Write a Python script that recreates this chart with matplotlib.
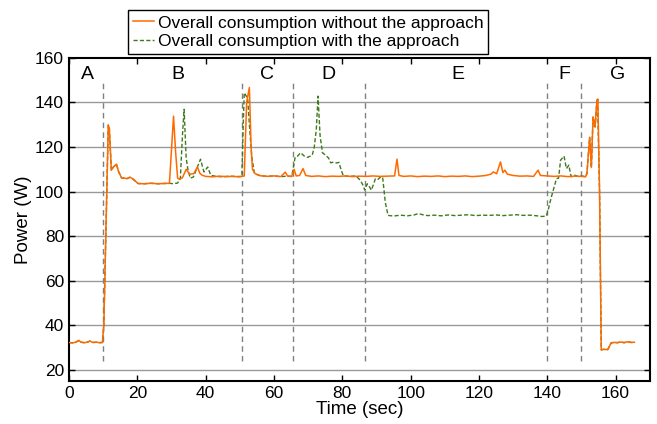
import numpy as np
import matplotlib
matplotlib.use("Agg")
import matplotlib.pyplot as plt

plt.rcParams['font.family'] = ['Liberation Sans', 'DejaVu Sans']

# power trace without the approach (time in sec, power in W)
t_without = [0, 1, 2, 2.9, 3.5, 4.5, 5.5, 6.1, 7, 8, 9, 9.8,
             10.2, 11.5, 11.8, 12.4, 13.0, 13.9, 14.5, 15.4, 16.2, 17.0, 17.8, 18.5, 19.2, 20.2,
             22, 24, 26, 28, 29.4, 30.6, 31.2, 31.8, 32.4, 33.2, 34.3, 35.3, 36.5, 37.6, 38.3, 39.0,
             40, 42, 44, 46, 48, 50, 51.3, 52.0, 52.8, 53.3, 53.7, 54.5, 56, 58, 60, 62, 63.3, 64,
             65.2, 65.9, 66.5, 67.5, 68.5, 69.3, 71, 73, 75, 77, 79, 81, 83, 85, 87, 89, 91, 93,
             95.3, 96, 96.6, 98, 100, 102, 104, 106, 108, 110, 112, 114, 116, 118, 120, 122, 123.5,
             124.2, 125.2, 126.3, 127, 127.6, 128.3, 130, 132, 134, 136, 137.3, 138, 140, 142, 144,
             146, 148, 150, 151.2, 151.6, 152.4, 152.9, 153.4, 154.0, 154.5, 154.8, 155.3, 155.8,
             156.5, 157.7, 158.7, 159.5, 160.5, 161.5, 162.5, 163.5, 164.5, 165.5]
p_without = [32.3, 32.1, 32.4, 33.2, 32.4, 32.2, 32.5, 32.9, 32.3, 32.4, 32.2, 32.3,
             40, 129.8, 128.5, 109.6, 111, 112.3, 109, 106.1, 106.0, 105.8, 106.4, 105.9, 105.0, 103.6,
             103.5, 103.7, 103.5, 103.6, 103.7, 133.8, 118, 106, 105.5, 106.2, 110, 107.8, 108, 111, 108.2, 107.3,
             106.8, 106.6, 106.9, 106.7, 106.8, 106.6, 107, 140, 146.7, 120, 110, 108, 107.1, 106.8, 107, 106.7, 108.7, 106.9,
             106.8, 110, 107, 107.2, 110.3, 107.2, 106.8, 107, 106.7, 106.9, 106.8, 107, 106.7, 106.9, 106.8, 107, 106.8, 106.9,
             107, 114.5, 107.2, 106.8, 107, 106.7, 106.9, 106.8, 107, 106.7, 106.9, 106.8, 107, 106.7, 106.9, 107.2, 107.8,
             108.8, 108, 113.3, 108.5, 109.6, 107.8, 107.2, 106.9, 107, 106.8, 109.6, 107.2, 107, 106.8, 107,
             106.7, 106.9, 106.8, 106.6, 108, 124.3, 110.8, 133.5, 129, 140.3, 141.5, 100, 29,
             29.2, 29.1, 32.1, 32.3, 32.2, 32.5, 32.2, 32.6, 32.3, 32.4]

# power trace with the approach
t_with = [0, 1, 2, 2.9, 3.5, 4.5, 5.5, 6.1, 7, 8, 9, 9.8,
          10.2, 11.5, 11.8, 12.4, 13.0, 13.9, 14.5, 15.4, 16.2, 17.0, 17.8, 18.5, 19.2, 20.2,
          22, 24, 26, 28, 29.4, 30.5, 31.8, 32.6, 33.2, 33.7, 34.3, 34.8, 35.5, 36.4, 37.2, 38.5, 39.5,
          40.6, 41.5, 43, 45, 47, 49, 50.6, 51.0, 51.3, 52.3, 52.8, 53.5, 54.3, 56, 58, 60, 62, 64,
          65.2, 65.6, 66.2, 66.9, 67.8, 68.8, 69.8, 71.2, 71.8, 72.4, 72.9, 73.5, 74.2, 75.1, 76.0,
          76.6, 77.5, 78.4, 79.0, 79.6, 80.3, 82, 84, 85.3, 86.0, 86.6, 87.3, 88.0, 88.5, 89.2, 89.7,
          90.5, 91.1, 91.8, 92.6, 93.4, 95, 97, 99, 101, 102.3, 103.5, 105, 107, 109, 111, 113, 115,
          117, 119, 121, 123, 125, 127, 129, 131, 133, 135, 137, 138.5, 139.7, 140.3, 141.2, 142.7,
          143.3, 143.9, 144.9, 145.6, 146.3, 147, 148, 149, 150, 151.2, 151.6, 152.4, 152.9, 153.4,
          154.0, 154.5, 154.7, 155.3, 155.8, 156.5, 157.7, 158.7, 159.5, 160.5, 161.5, 162.5, 163.5,
          164.5, 165.5]
p_with = [32.3, 32.1, 32.4, 33.2, 32.4, 32.2, 32.5, 32.9, 32.3, 32.4, 32.2, 32.3,
          40, 129.8, 128.5, 109.6, 111, 112.3, 109, 106.1, 106.0, 105.8, 106.4, 105.9, 105.0, 103.6,
          103.5, 103.7, 103.5, 103.6, 103.7, 103.5, 103.8, 106, 125, 136.9, 115, 110, 106, 106.5, 109.5, 114.5, 108.8,
          111, 107.3, 106.8, 106.6, 106.9, 106.7, 106.8, 130, 144.3, 141.8, 130, 115.6, 108, 107.1, 106.8, 107, 106.7, 106.9,
          106.8, 110, 115.5, 115.9, 117.4, 116, 115.3, 116.3, 120, 128, 142.8, 125, 117.4, 116.3, 115,
          112.9, 113.2, 112.8, 113.1, 110, 107, 106.8, 107, 105, 103, 100.6, 103.5, 102, 100.6, 103.5, 105.8,
          105.5, 106.4, 106.5, 95, 89.3, 89, 89.4, 89.1, 89.5, 90.1, 89.6, 89.2, 89.4, 89.1, 89.5, 89.2, 89.4,
          89.6, 89.2, 89.4, 89.3, 89.5, 89.2, 89.4, 89.6, 89.3, 89.4, 89.1, 88.8, 89, 92, 97.6, 105.8,
          106, 114.1, 115.9, 110.3, 111.8, 106.6, 107.3, 106.8, 107, 106.7, 108, 124.3, 110.8, 133.5,
          129, 140.3, 141.8, 100, 29, 29.2, 29.1, 32.1, 32.3, 32.2, 32.5, 32.2, 32.6, 32.3,
          32.4]

# phase boundaries and phase labels
boundaries = [10, 50.5, 65.5, 86.5, 140, 150]
phase_names = ['A', 'B', 'C', 'D', 'E', 'F', 'G']
phase_pos = [5.5, 32, 58, 76, 113.7, 145, 160.5]

fig = plt.figure(figsize=(6.57, 4.24), dpi=100)
ax = fig.add_axes([0.105, 0.1014, 0.884, 0.7623])

for y in range(20, 160, 20):
    ax.axhline(y, color='#999999', linewidth=1.0, zorder=0)

for b in boundaries:
    ax.plot([b, b], [24, 150], color='#808080', linestyle=(0, (4, 3)), linewidth=1.0, zorder=1)

for name, pos in zip(phase_names, phase_pos):
    ax.text(pos, 152.3, name, ha='center', va='center', fontsize=14)

l_with, = ax.plot(t_with, p_with, color='#3d7a1c', linestyle=(0, (3, 1.6)), linewidth=1.0, zorder=2)
l_without, = ax.plot(t_without, p_without, color='#ff6a00', linewidth=1.1, zorder=3)

ax.set_xlim(0, 170)
ax.set_ylim(15, 160)
ax.set_xticks(range(0, 161, 20))
ax.set_yticks(range(20, 161, 20))
ax.tick_params(direction='in', top=True, right=True, labelsize=12.5, length=4, width=1)
for s in ax.spines.values():
    s.set_linewidth(1.5)
ax.set_xlabel('Time (sec)', fontsize=13.5, labelpad=0)
ax.set_ylabel('Power (W)', fontsize=13.5, labelpad=2)

leg = fig.legend([l_without, l_with],
                 ['Overall consumption without the approach', 'Overall consumption with the approach'],
                 loc='upper left', bbox_to_anchor=(0.195, 0.976), fontsize=12.5,
                 handlelength=1.2, handletextpad=0.2, borderpad=0.3, labelspacing=0.2,
                 borderaxespad=0, fancybox=False, framealpha=1)
leg.get_frame().set_edgecolor('black')
leg.get_frame().set_linewidth(1.0)

fig.savefig('out.png', dpi=100)
